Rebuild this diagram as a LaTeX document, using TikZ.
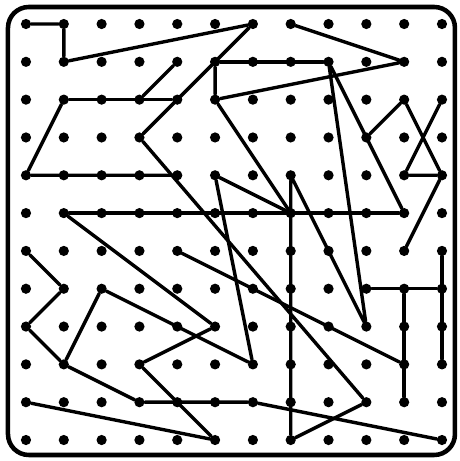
\documentclass[tikz,border=0pt]{standalone}
\usepackage{tikz}

\begin{document}
\begin{tikzpicture}[
    peg/.style={circle, fill=black, inner sep=0pt, minimum size=0.27cm},
    band/.style={line width=0.09cm, line cap=round, line join=round},
    board/.style={line width=0.12cm, rounded corners=0.55cm}
]
    \useasboundingbox (-0.687,-11.555) rectangle (11.475,0.635);

    % Board outline
    \draw[board] (-0.476,-11.396) rectangle (11.343,0.45);

    % Pegs: 12 x 12 grid, row 0 on top
    \foreach \c in {0,...,11}
        \foreach \r in {0,...,11}
            \node[peg] (p\c-\r) at (\c,-\r) {};

    % Bands, top left part
    \draw[band] (p0-0) -- (p1-0) -- (p1-1) -- (p6-0) -- (p3-3);
    \draw[band] (p5-1) -- (p8-1);
    \draw[band] (p5-1) -- (p5-2) -- (p10-1) -- (p7-0);
    \draw[band] (p4-1) -- (p3-2);
    \draw[band] (p1-2) -- (p4-2);
    \draw[band] (p1-2) -- (p0-4) -- (p4-4);

    % Long zig-zag through the middle
    \draw[band] (p3-3) -- (p9-10) -- (p7-11) -- (p7-4) -- (p9-8) -- (p8-1) -- (p10-5);

    % Right side
    \draw[band] (p9-3) -- (p10-2) -- (p11-4) -- (p10-6);
    \draw[band] (p11-2) -- (p10-4) -- (p11-4);
    \draw[band] (p5-2) -- (p7-5);
    \draw[band] (p5-4) -- (p7-5);
    \draw[band] (p5-4) -- (p6-9);
    \draw[band] (p1-5) -- (p10-5);

    % Bottom left part
    \draw[band] (p1-5) -- (p5-8) -- (p3-9) -- (p5-11) -- (p0-10);
    \draw[band] (p0-6) -- (p1-7) -- (p0-8) -- (p1-9) -- (p2-7) -- (p6-9);
    \draw[band] (p1-9) -- (p3-10) -- (p6-10) -- (p11-11);
    \draw[band] (p4-6) -- (p10-9);

    % Bottom right
    \draw[band] (p9-7) -- (p11-7);
    \draw[band] (p10-7) -- (p10-10);
    \draw[band] (p11-6) -- (p11-9);
\end{tikzpicture}
\end{document}
